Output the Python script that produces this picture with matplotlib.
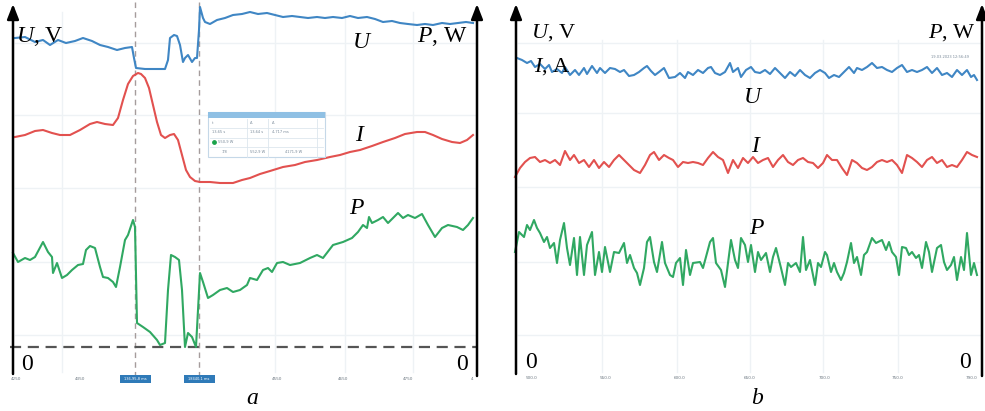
import matplotlib
matplotlib.use('Agg')
import matplotlib.pyplot as plt
from matplotlib.patches import Rectangle

plt.rcParams['font.family'] = ['Liberation Serif', 'DejaVu Serif']
plt.rcParams['mathtext.fontset'] = 'custom'
plt.rcParams['mathtext.rm'] = 'Liberation Serif'
plt.rcParams['mathtext.it'] = 'Liberation Serif:italic'

# ---- panel a: screen readings (column, row) of the oscilloscope traces ----
ua_x = [15, 25, 35, 43, 50, 58, 66, 75, 83, 92, 100, 108, 117, 125, 132, 134, 136, 145, 155, 165,
        168, 170, 174, 177, 180, 183, 185, 188, 192, 195, 197, 199, 200, 203, 205, 210, 217, 225,
        233, 242, 250, 258, 267, 275, 283, 292, 300, 308, 317, 325, 333, 342, 350, 358, 367, 375,
        383, 392, 400, 408, 417, 425, 433, 442, 450, 458, 466, 473]
ua_y = [38, 37, 42, 40, 45, 40, 43, 41, 38, 41, 45, 47, 50, 48, 47, 58, 68, 69, 69, 69,
        60, 38, 35, 36, 45, 62, 58, 55, 62, 58, 58, 30, 7, 18, 22, 24, 20, 18,
        15, 14, 12, 14, 13, 15, 17, 16, 17, 18, 17, 18, 17, 18, 16, 18, 17, 19,
        22, 21, 23, 24, 25, 24, 25, 23, 24, 23, 22, 23]

ia_x = [15, 25, 35, 43, 52, 60, 70, 80, 90, 97, 105, 113, 118, 123, 128, 133, 138, 141, 145, 149,
        153, 157, 161, 165, 170, 174, 178, 182, 186, 190, 195, 200, 210, 220, 233, 242, 250, 260,
        270, 283, 295, 305, 317, 330, 340, 350, 360, 372, 383, 395, 405, 417, 425, 433, 442, 452,
        460, 467, 473]
ia_y = [137, 135, 131, 130, 133, 135, 135, 130, 124, 122, 124, 125, 118, 100, 84, 76, 73, 74, 78, 88,
        105, 122, 135, 138, 135, 134, 140, 155, 170, 177, 181, 182, 182, 183, 183, 180, 178, 174,
        171, 167, 165, 162, 160, 157, 155, 152, 150, 146, 142, 138, 134, 132, 132, 135, 139, 142,
        143, 140, 135]

pa_x = [13, 18, 25, 30, 35, 43, 48, 52, 53, 57, 62, 67, 72, 78, 83, 86, 90, 95, 100, 103,
        108, 113, 116, 120, 125, 128, 133, 135, 137, 143, 150, 157, 160, 165, 168, 171, 175, 179,
        182, 185, 188, 192, 196, 200, 203, 208, 213, 220, 227, 233, 240, 247, 250, 257, 263, 268,
        272, 277, 283, 290, 300, 310, 317, 323, 333, 343, 352, 358, 363, 367, 369, 372, 378, 383,
        388, 393, 398, 403, 408, 415, 422, 428, 435, 442, 448, 457, 463, 468, 473]
pa_y = [253, 262, 258, 260, 257, 242, 252, 257, 273, 263, 278, 275, 270, 265, 264, 250, 246, 248, 267, 277,
        278, 282, 287, 267, 240, 235, 220, 227, 323, 327, 332, 340, 345, 343, 290, 255, 257, 260,
        290, 347, 333, 337, 347, 273, 282, 298, 295, 290, 288, 292, 290, 285, 278, 280, 270, 268,
        272, 263, 262, 265, 263, 258, 255, 258, 245, 242, 238, 232, 225, 228, 217, 223, 220, 217,
        223, 218, 213, 218, 215, 218, 214, 225, 237, 228, 225, 227, 230, 225, 218]

zero_row_a = 347
cursor_cols = [135, 199]
ticks_a_x = [16, 80, 277, 343, 408, 472]
ticks_a_lab = ['4250', '4350', '4550', '4650', '4750', '4']
cursor_lab = ['136,95,8 ms', '18440,1 ms']

# ---- panel b ----
ub_x = [517, 522, 527, 531, 535, 540, 545, 549, 552, 557, 562, 565, 570, 575, 579, 584, 587, 592, 597, 600,
        605, 610, 615, 620, 624, 629, 634, 639, 644, 647, 651, 655, 659, 664, 669, 675, 680, 685, 688, 693,
        698, 703, 708, 711, 715, 720, 725, 730, 733, 738, 741, 746, 751, 755, 760, 765, 770, 775, 780, 785,
        790, 795, 800, 805, 810, 815, 820, 825, 829, 834, 839, 844, 849, 854, 857, 862, 867, 872, 877, 882,
        887, 892, 897, 902, 907, 912, 917, 922, 927, 932, 937, 942, 947, 952, 957, 962, 967, 971, 974, 977]
ub_y = [58, 60, 63, 61, 67, 64, 69, 65, 72, 69, 73, 67, 75, 70, 75, 68, 74, 66, 73, 68,
        73, 68, 69, 72, 70, 76, 75, 72, 68, 66, 71, 75, 72, 68, 78, 77, 73, 78, 72, 75,
        70, 73, 68, 67, 73, 75, 72, 63, 72, 68, 77, 70, 67, 72, 73, 70, 74, 68, 73, 78,
        72, 76, 70, 75, 78, 73, 70, 73, 78, 75, 77, 72, 67, 73, 68, 70, 67, 63, 68, 67,
        70, 72, 68, 65, 72, 70, 72, 70, 67, 73, 68, 75, 73, 77, 70, 75, 70, 77, 75, 80]

ib_x = [515, 520, 525, 530, 535, 540, 545, 550, 555, 560, 565, 570, 574, 579, 584, 589, 594, 599, 604, 609,
        614, 619, 624, 629, 634, 640, 645, 650, 654, 659, 664, 669, 673, 678, 683, 688, 693, 698, 703, 708,
        713, 718, 723, 728, 733, 738, 743, 748, 753, 758, 763, 768, 773, 778, 783, 788, 793, 798, 803, 808,
        813, 818, 823, 827, 832, 837, 842, 847, 852, 857, 862, 867, 872, 877, 882, 887, 892, 897, 902, 907,
        912, 917, 922, 927, 932, 937, 942, 947, 952, 957, 962, 967, 972, 977]
ib_y = [177, 168, 162, 158, 157, 162, 160, 163, 160, 165, 151, 160, 155, 163, 160, 167, 160, 168, 162, 167,
        160, 155, 160, 165, 170, 173, 165, 155, 152, 160, 155, 158, 160, 167, 162, 163, 162, 163, 165, 158,
        152, 157, 160, 173, 160, 168, 158, 163, 157, 163, 160, 158, 167, 160, 155, 162, 165, 160, 158, 162,
        163, 168, 163, 155, 160, 160, 168, 175, 160, 163, 168, 170, 167, 162, 160, 162, 160, 165, 173, 155,
        158, 162, 167, 160, 157, 163, 160, 167, 165, 167, 160, 152, 155, 157]

pb_x = [515, 519, 524, 527, 530, 534, 537, 540, 544, 547, 550, 554, 557, 560, 564, 567, 570, 574, 577, 580,
        584, 587, 592, 595, 599, 602, 605, 610, 614, 619, 624, 627, 630, 634, 637, 640, 644, 647, 650, 654,
        657, 662, 665, 670, 673, 676, 680, 683, 686, 690, 693, 700, 703, 706, 710, 713, 716, 721, 725, 728,
        731, 735, 738, 741, 745, 748, 751, 755, 758, 761, 766, 770, 773, 776, 781, 785, 788, 791, 796, 800,
        803, 806, 810, 815, 818, 821, 825, 827, 831, 834, 837, 841, 844, 847, 851, 854, 857, 861, 864, 867,
        872, 876, 882, 886, 889, 892, 896, 899, 902, 906, 909, 912, 916, 919, 922, 926, 929, 932, 937, 941,
        944, 947, 951, 954, 957, 961, 964, 967, 971, 974, 977]
pb_y = [252, 232, 237, 225, 230, 220, 228, 233, 242, 237, 248, 243, 263, 240, 223, 248, 265, 238, 275, 237,
        275, 245, 232, 275, 252, 272, 247, 272, 252, 253, 243, 263, 255, 268, 273, 285, 268, 242, 237, 262,
        272, 242, 263, 275, 277, 263, 258, 285, 250, 275, 263, 262, 268, 257, 242, 238, 263, 270, 287, 263,
        240, 260, 268, 238, 245, 262, 245, 272, 252, 260, 253, 272, 257, 248, 268, 285, 263, 267, 263, 272,
        237, 270, 260, 285, 263, 267, 252, 255, 272, 263, 272, 280, 273, 262, 243, 263, 257, 275, 255, 252,
        238, 243, 240, 250, 242, 252, 257, 275, 247, 248, 255, 252, 258, 255, 268, 242, 252, 272, 248, 245,
        262, 270, 265, 257, 280, 257, 270, 233, 275, 263, 275]

ticks_b_x = [531, 605, 680, 750, 825, 898, 972]
ticks_b_lab = ['500.0', '550.0', '600.0', '650.0', '700.0', '750.0', '790.0']

blue = '#3f86c4'
red = '#e2514f'
green = '#30a862'
grid_c = '#eef2f5'

fig = plt.figure(figsize=(9.85, 4.11), dpi=100)
W, H = 985, 411


def make_axes(x0, x1):
    ax = fig.add_axes([x0 / W, 0, (x1 - x0) / W, 1])
    ax.set_xlim(x0, x1)
    ax.set_ylim(H, 0)
    ax.axis('off')
    return ax


def arrow(ax, x, y0, y1):
    ax.annotate('', xy=(x, y1), xytext=(x, y0),
                arrowprops=dict(arrowstyle='-|>,head_length=0.9,head_width=0.35',
                                color='black', lw=1.8, shrinkA=0, shrinkB=0))


lab = dict(fontsize=17, color='black')

# ---------------- panel a ----------------
ax = make_axes(0, 490)
for gy in [43, 115, 188, 262, 335]:
    ax.plot([15, 475], [gy, gy], color=grid_c, lw=1, zorder=0)
for gx in [62, 275, 345, 413]:
    ax.plot([gx, gx], [12, 372], color=grid_c, lw=1, zorder=0)
for cx in cursor_cols:
    ax.plot([cx, cx], [2, 375], color='#a59c9c', lw=1, ls=(0, (4, 3)), zorder=1)
ax.plot([10, 477], [zero_row_a, zero_row_a], color='#555555', lw=1.6, ls=(0, (5, 3)), zorder=1)

ax.plot(ua_x, ua_y, color=blue, lw=1.5, zorder=3)
ax.plot(ia_x, ia_y, color=red, lw=1.5, zorder=3)
ax.plot(pa_x, pa_y, color=green, lw=1.5, zorder=3)

# cursor info box
ax.add_patch(Rectangle((208, 112), 117, 45, facecolor='white', edgecolor='#c5d8e8', lw=0.8, zorder=4))
ax.add_patch(Rectangle((208, 112), 117, 6, facecolor='#8fc0e4', edgecolor='none', zorder=5))
for ry in [128, 138, 147]:
    ax.plot([210, 323], [ry, ry], color='#dde6ee', lw=0.6, zorder=5)
for rx in [247, 268, 317]:
    ax.plot([rx, rx], [119, 157], color='#dde6ee', lw=0.6, zorder=5)
small = dict(fontsize=2.6, color='#7a8a99', family='DejaVu Sans', zorder=6)
ax.text(212, 124, 't', **small)
ax.text(250, 124, 'Δ', **small)
ax.text(272, 124, 'Δ', **small)
ax.text(212, 133, '13,65 s', **small)
ax.text(250, 133, '13,64 s', **small)
ax.text(272, 133, '4,717 ms', **small)
ax.scatter([214], [142], s=6, color='#1aa34a', zorder=6)
ax.text(218, 143, '550,9 W', **small)
ax.text(222, 153, '7/8', **small)
ax.text(250, 153, '552,9 W', **small)
ax.text(285, 153, '4171,9 W', **small)

for tx, tl in zip(ticks_a_x, ticks_a_lab):
    ax.text(tx, 379, tl, fontsize=3, color='#6b7680', ha='center', va='center', family='DejaVu Sans')
for cx, cl in zip(cursor_cols, cursor_lab):
    ax.add_patch(Rectangle((cx - 15, 375), 31, 8, facecolor='#2f7ab8', edgecolor='none', zorder=4))
    ax.text(cx, 379, cl, fontsize=2.6, color='white', ha='center', va='center', family='DejaVu Sans', zorder=5)

arrow(ax, 13, 374, 4)
arrow(ax, 477, 376, 4)
ax.text(16, 37, '$\\mathit{U}$, V', va='center', ha='left', **lab)
ax.text(362, 42, '$\\mathit{U}$', va='center', ha='center', **lab)
ax.text(360, 135, '$\\mathit{I}$', va='center', ha='center', **lab)
ax.text(357, 208, '$\\mathit{P}$', va='center', ha='center', zorder=6,
        bbox=dict(facecolor='white', edgecolor='none', pad=0.5), **lab)
ax.text(468, 37, '$\\mathit{P}$, W', va='center', ha='right', **lab)
ax.text(27, 364, '0', va='center', ha='center', **lab)
ax.text(462, 364, '0', va='center', ha='center', **lab)
ax.text(252, 398, '$\\mathit{a}$', va='center', ha='center', **lab)

# ---------------- panel b ----------------
bx = make_axes(490, 985)
for gy in [43, 113, 187, 262, 335]:
    bx.plot([518, 980], [gy, gy], color=grid_c, lw=1, zorder=0)
for gx in [602, 677, 750, 823, 898]:
    bx.plot([gx, gx], [40, 372], color=grid_c, lw=1, zorder=0)

bx.plot(ub_x, ub_y, color=blue, lw=1.5, zorder=3)
bx.plot(ib_x, ib_y, color=red, lw=1.5, zorder=3)
bx.plot(pb_x, pb_y, color=green, lw=1.5, zorder=3)

bx.text(950, 57, '19.03.2023 12:56:49', fontsize=2.6, color='#7a8a99', ha='center', va='center',
        family='DejaVu Sans')
for tx, tl in zip(ticks_b_x, ticks_b_lab):
    bx.text(tx, 378, tl, fontsize=3, color='#6b7680', ha='center', va='center', family='DejaVu Sans')

arrow(bx, 516, 374, 4)
arrow(bx, 982, 376, 4)
bx.text(531, 33, '$\\mathit{U}$, V', va='center', ha='left', fontsize=16)
bx.text(534, 67, '$\\mathit{I}$, A', va='center', ha='left', fontsize=16)
bx.text(976, 33, '$\\mathit{P}$, W', va='center', ha='right', fontsize=16)
bx.text(753, 97, '$\\mathit{U}$', va='center', ha='center', **lab)
bx.text(756, 146, '$\\mathit{I}$', va='center', ha='center', **lab)
bx.text(757, 228, '$\\mathit{P}$', va='center', ha='center', **lab)
bx.text(531, 362, '0', va='center', ha='center', **lab)
bx.text(965, 362, '0', va='center', ha='center', **lab)
bx.text(758, 398, '$\\mathit{b}$', va='center', ha='center', **lab)

fig.savefig('out.png', dpi=100, facecolor='white')
